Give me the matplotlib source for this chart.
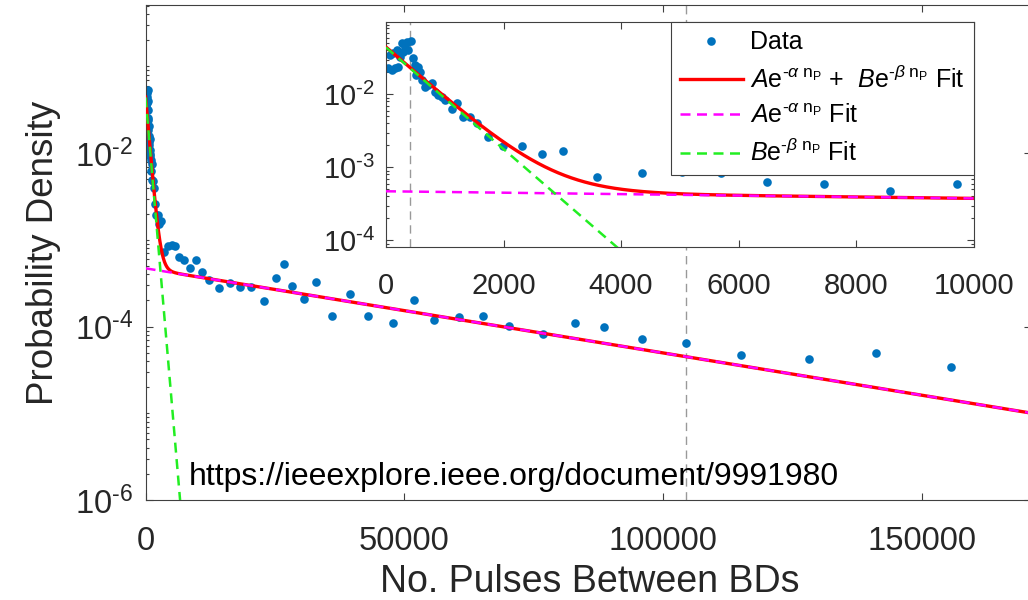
import numpy as np
import matplotlib
matplotlib.use("Agg")
import matplotlib.pyplot as plt
from matplotlib.ticker import FixedLocator, LogLocator, NullFormatter, FuncFormatter

plt.rcParams['font.family'] = ['Liberation Sans', 'DejaVu Sans']
plt.rcParams['mathtext.fontset'] = 'custom'
plt.rcParams['mathtext.rm'] = 'Liberation Sans'
plt.rcParams['mathtext.it'] = 'Liberation Sans:italic'
plt.rcParams['mathtext.bf'] = 'Liberation Sans:bold'

# Measured breakdown spacing histogram (pulses between BDs vs. probability density)
n_pulses = [39, 68, 97, 125, 153, 182, 210, 238, 267, 295, 323, 352, 380, 420,
            465, 494, 511, 550, 579, 607, 664, 720, 777, 834, 890, 947, 1004,
            1118, 1203, 1316, 1430, 1543, 1741, 1996, 2309, 2650, 3007, 3597,
            4352, 5033, 5697, 6491, 7455, 8583, 9724,
            10844, 12313, 14246, 16315, 18248, 20374, 22945, 25206, 26753,
            28241, 30619, 32881, 35974, 39511, 42933, 47881, 51940, 55806,
            60638, 65161, 70303, 76759, 83003, 88667, 95896, 104459, 115090,
            128235, 141186, 155625]
prob_density = [0.0227, 0.0345, 0.0215, 0.0365, 0.0227, 0.0405, 0.0239, 0.0327,
                0.050, 0.0384, 0.0449, 0.0526, 0.0405, 0.0542, 0.0311, 0.0252,
                0.0184, 0.0239, 0.0204, 0.0157, 0.0125, 0.0134, 0.0144, 0.0109,
                0.0098, 0.0093, 0.00835, 0.00623, 0.00753, 0.00493, 0.00484,
                0.00401, 0.00258, 0.00196, 0.00196, 0.00151, 0.00167, 0.00073,
                0.000844, 0.00087, 0.000844, 0.000635, 0.00059, 0.000473,
                0.000585,
                4.23e-4, 3.45e-4, 2.77e-4, 3.16e-4, 2.84e-4, 2.90e-4, 1.97e-4,
                3.61e-4, 5.23e-4, 2.94e-4, 2.07e-4, 3.30e-4, 1.34e-4, 2.38e-4,
                1.34e-4, 1.09e-4, 2.03e-4, 1.19e-4, 1.28e-4, 1.32e-4, 1.02e-4,
                8.22e-5, 1.09e-4, 9.82e-5, 7.13e-5, 6.41e-5, 4.70e-5, 4.23e-5,
                4.92e-5, 3.44e-5]

# Double-exponential fit parameters
fit_A, fit_alpha = 4.70e-4, 2.246e-5
fit_B, fit_beta = 0.044, 1.604e-3

# Dashed reference markers (pulses)
main_marker_x = 104400
inset_marker_x = 400

main_xticks = [0, 50000, 100000, 150000]
main_yticks = [1e-6, 1e-4, 1e-2]
inset_xticks = [0, 2000, 4000, 6000, 8000, 10000]
inset_yticks = [1e-4, 1e-3, 1e-2]

label_main = (r'$\mathit{A}\mathrm{e}^{\text{-}\alpha\ \mathrm{n}_\mathrm{P}}$ +  '
              r'$\mathit{B}\mathrm{e}^{\text{-}\beta\ \mathrm{n}_\mathrm{P}}$ Fit')
label_a = r'$\mathit{A}\mathrm{e}^{\text{-}\alpha\ \mathrm{n}_\mathrm{P}}$ Fit'
label_b = r'$\mathit{B}\mathrm{e}^{\text{-}\beta\ \mathrm{n}_\mathrm{P}}$ Fit'

DOT = '#0072BD'
RED = '#FF0000'
MAG = '#FF00FF'
GRN = '#22EE22'
AX = '#404040'
TXT = '#262626'

W, H = 1028, 600
fig = plt.figure(figsize=(W / 100, H / 100), dpi=100)


def px_axes(left, top, right, bottom):
    return [left / W, 1 - bottom / H, (right - left) / W, (bottom - top) / H]


def pow_fmt(v, _):
    return r'$10^{\text{-}%d}$' % int(round(-np.log10(v)))


def style(ax, size, xpad, ypad):
    ax.tick_params(which='both', direction='in', top=True, right=True,
                   color=AX, labelcolor=TXT, labelsize=size, width=0.8)
    ax.tick_params(which='major', length=5)
    ax.tick_params(which='minor', length=2.5)
    ax.tick_params(axis='x', pad=xpad)
    ax.tick_params(axis='y', pad=ypad)
    for s in ax.spines.values():
        s.set_color(AX)
        s.set_linewidth(0.8)


def model_curves(n):
    a = fit_A * np.exp(-fit_alpha * n)
    b = fit_B * np.exp(-fit_beta * n)
    return a + b, a, b


# ---------------- main axes ----------------
ax = fig.add_axes(px_axes(145.6, 5, 1031, 500))
n_main = np.concatenate([np.linspace(0, 10000, 1500), np.linspace(10000, 180000, 600)])
tot, part_a, part_b = model_curves(n_main)

ax.axvline(main_marker_x, color='#999999', lw=1.0, ls=(0, (6, 4)), zorder=1)
ax.plot(n_pulses, prob_density, 'o', color=DOT, ms=6.2, mec='none', zorder=2)
ax.plot(n_main, tot, color=RED, lw=2.4, zorder=3)
ax.plot(n_main, part_a, color=MAG, lw=1.8, ls=(0, (4, 2.6)), zorder=4)
ax.plot(n_main, part_b, color=GRN, lw=1.8, ls=(0, (4, 2.6)), zorder=4)

ax.set_yscale('log')
ax.set_xlim(0, 171150)
ax.set_ylim(1e-6, 0.512)
ax.xaxis.set_major_locator(FixedLocator(main_xticks))
ax.xaxis.set_major_formatter(FuncFormatter(lambda v, _: '%d' % v))
ax.yaxis.set_major_locator(FixedLocator(main_yticks))
ax.yaxis.set_major_formatter(FuncFormatter(pow_fmt))
ax.yaxis.set_minor_locator(LogLocator(base=10, subs=np.arange(1, 10), numticks=20))
ax.yaxis.set_minor_formatter(NullFormatter())
style(ax, 23.5, 19, 9)

ax.set_xlabel('No. Pulses Between BDs', fontsize=27, color=TXT, va='baseline')
ax.xaxis.set_label_coords(0.5016, -0.1853)
ax.set_ylabel('Probability Density', fontsize=26.5, color=TXT, va='center')
ax.yaxis.set_label_coords(-0.1155, 0.5)

fig.text(189 / W, 1 - 485 / H, 'https://ieeexplore.ieee.org/document/9991980',
         fontsize=23, color='black', va='baseline', ha='left')

# ---------------- inset axes ----------------
axi = fig.add_axes(px_axes(386, 21.7, 973.7, 247))
n_in = np.linspace(0, 10000, 1500)
tot_i, part_a_i, part_b_i = model_curves(n_in)

axi.axvline(inset_marker_x, color='#999999', lw=1.0, ls=(0, (6, 4)), zorder=1)
axi.plot(n_pulses, prob_density, 'o', color=DOT, ms=6.2, mec='none', zorder=2,
         label='Data')
axi.plot(n_in, tot_i, color=RED, lw=2.4, zorder=3, label=label_main)
axi.plot(n_in, part_a_i, color=MAG, lw=1.8, ls=(0, (4, 2.6)), zorder=4, label=label_a)
axi.plot(n_in, part_b_i, color=GRN, lw=1.8, ls=(0, (4, 2.6)), zorder=4, label=label_b)

axi.set_yscale('log')
axi.set_xlim(0, 10000)
axi.set_ylim(8.1e-5, 0.099)
axi.xaxis.set_major_locator(FixedLocator(inset_xticks))
axi.xaxis.set_major_formatter(FuncFormatter(lambda v, _: '%d' % v))
axi.yaxis.set_major_locator(FixedLocator(inset_yticks))
axi.yaxis.set_major_formatter(FuncFormatter(pow_fmt))
axi.yaxis.set_minor_locator(LogLocator(base=10, subs=np.arange(1, 10), numticks=20))
axi.yaxis.set_minor_formatter(NullFormatter())
style(axi, 21, 18, 8)

leg = axi.legend(loc='upper right', borderaxespad=0, fontsize=18, frameon=True,
                 fancybox=False, edgecolor=AX, framealpha=1, handlelength=2.5,
                 handletextpad=0.3, labelspacing=0.45, borderpad=0.35, numpoints=1)
leg.get_frame().set_linewidth(0.8)
for t in leg.get_texts():
    t.set_color('black')

fig.savefig('out.png', dpi=100, facecolor='white')
